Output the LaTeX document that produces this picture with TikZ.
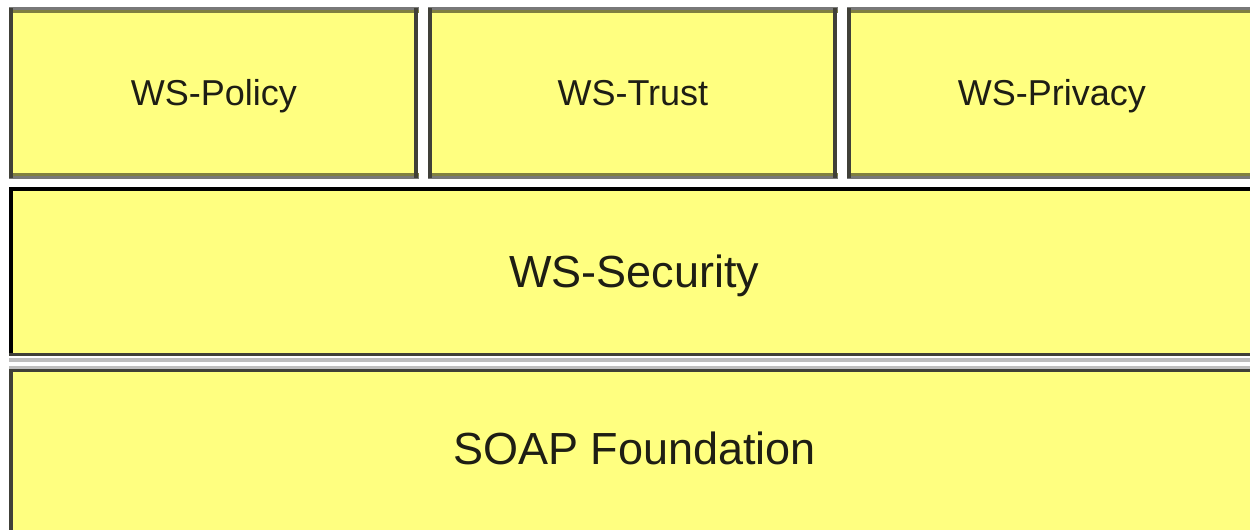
\documentclass[tikz,border=0pt]{standalone}
\usepackage{fontspec}
\setmainfont{Liberation Sans}
\definecolor{boxyellow}{RGB}{255,255,128}
\definecolor{edgegray}{RGB}{120,120,120}
\definecolor{edgeolive}{RGB}{128,128,64}
\definecolor{edgedark}{RGB}{64,64,56}
\definecolor{edgelight}{RGB}{190,190,190}
\definecolor{txt}{RGB}{30,30,20}
\begin{document}
\begin{tikzpicture}[x=0.5pt,y=-0.5pt,
  layer/.style={fill=boxyellow,draw=none,inner sep=0pt,text=txt,anchor=north west},
  small/.style={layer,font=\fontsize{18}{20}\selectfont,text height=12.9pt,text depth=0pt,minimum width=204.5pt,minimum height=85.5pt},
  big/.style={layer,font=\fontsize{22.5}{25}\selectfont,text height=16.1pt,text depth=0pt,minimum width=625pt},
  topedge/.style={edgegray,line width=1.5pt},
  oliveedge/.style={edgeolive,line width=1.5pt},
  sideedge/.style={edgedark,line width=2pt},
  lightedge/.style={edgelight,line width=2pt}]
\useasboundingbox (0,0) rectangle (1250,530);
\clip (0,0) rectangle (1250,530);
\fill[white] (0,0) rectangle (1250,530);
% top row
\node[small] (policy) at (9,7) {WS-Policy};
\node[small] (trust) at (428,7) {WS-Trust};
\node[small] (privacy) at (847,7) {WS-Privacy};
\foreach \b in {policy,trust,privacy}{
  \draw[topedge] ([yshift=-0.75pt]\b.north west) -- ([yshift=-0.75pt]\b.north east);
  \draw[oliveedge] ([yshift=-2.25pt]\b.north west) -- ([yshift=-2.25pt]\b.north east);
  \draw[topedge] ([yshift=0.75pt]\b.south west) -- ([yshift=0.75pt]\b.south east);
  \draw[oliveedge] ([yshift=2.25pt]\b.south west) -- ([yshift=2.25pt]\b.south east);
  \draw[sideedge] ([xshift=1pt,yshift=-0.5pt]\b.north west) -- ([xshift=1pt,yshift=0.5pt]\b.south west);
  \draw[sideedge] ([xshift=-1.5pt,yshift=-0.5pt]\b.north east) -- ([xshift=-1.5pt,yshift=0.5pt]\b.south east);
}
% WS-Security
\node[big,minimum height=84pt] (security) at (9,187) {WS-Security};
\draw[black,line width=1.75pt] ([xshift=0.875pt,yshift=-0.875pt]security.north west) -- ([xshift=10pt,yshift=-0.875pt]security.north east);
\draw[black,line width=2pt] ([xshift=1pt]security.north west) -- ([xshift=1pt]security.south west);
\draw[edgedark,line width=1.5pt] ([yshift=0.75pt]security.south west) -- ([xshift=10pt,yshift=0.75pt]security.south east);
\draw[lightedge] ([yshift=-2.25pt]security.south west) -- ([xshift=10pt,yshift=-2.25pt]security.south east);
% SOAP Foundation
\node[big,minimum height=82pt] (soap) at (9,366) {SOAP Foundation};
\draw[lightedge,line width=1.5pt] ([yshift=-0.75pt]soap.north west) -- ([xshift=10pt,yshift=-0.75pt]soap.north east);
\draw[edgedark,line width=1.5pt] ([yshift=-2.25pt]soap.north west) -- ([xshift=10pt,yshift=-2.25pt]soap.north east);
\draw[sideedge] ([xshift=1pt,yshift=-1.5pt]soap.north west) -- ([xshift=1pt,yshift=-10pt]soap.south west);
\end{tikzpicture}
\end{document}
